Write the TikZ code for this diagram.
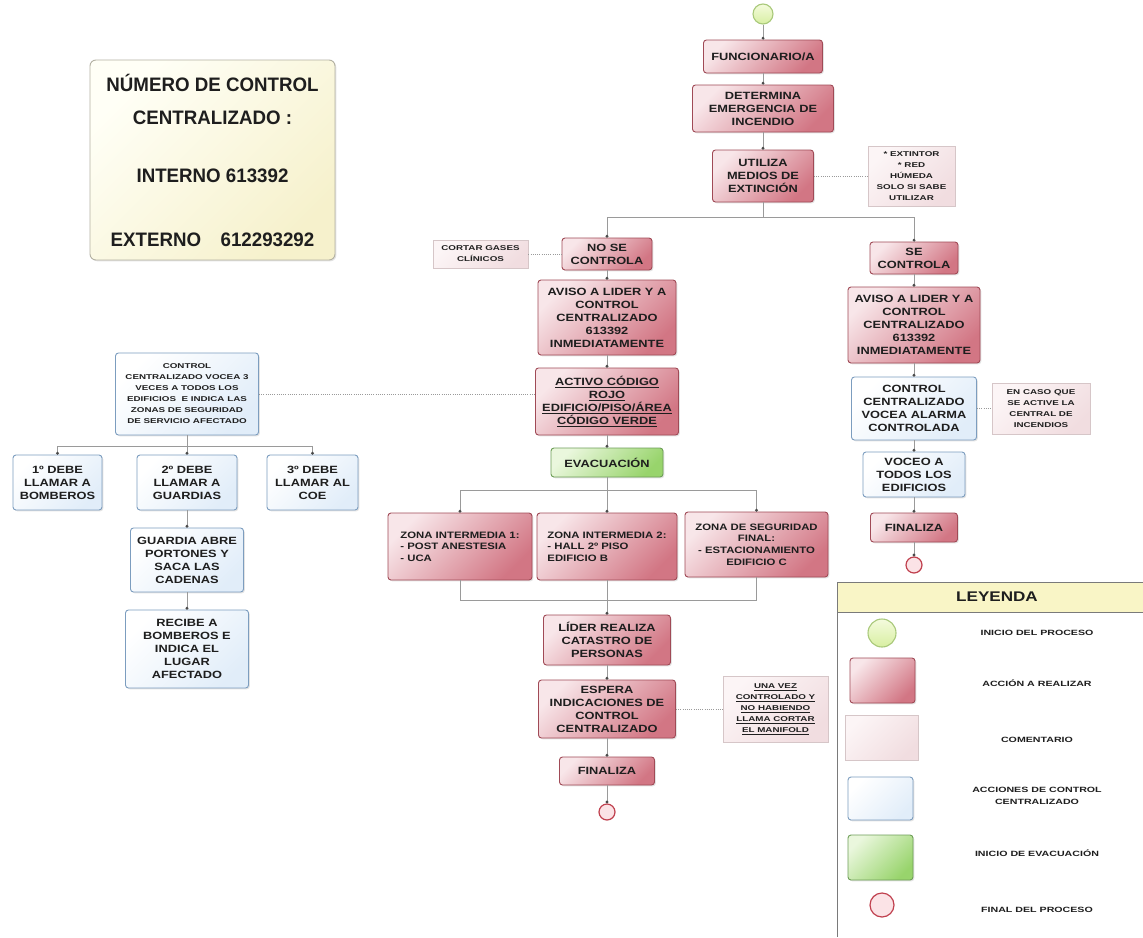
\documentclass[tikz,border=0pt]{standalone}
\usepackage{fontspec}
\setmainfont{Liberation Sans}
\newfontfamily\bxf[FakeStretch=1.22]{Liberation Sans}
\newfontfamily\smf[FakeStretch=1.4]{Liberation Sans}
\newfontfamily\nmf[FakeStretch=0.96]{Liberation Sans}
\usetikzlibrary{arrows.meta,shadows}
\newcommand\bigfnt{\bxf\bfseries\fontsize{10.5}{13}\selectfont}
\newcommand\zonefnt{\bxf\bfseries\fontsize{9.3}{11.7}\selectfont}
\newcommand\smfnt{\smf\bfseries\fontsize{7}{11}\selectfont}
\newcommand\legfnt{\smf\bfseries\fontsize{7.6}{12.5}\selectfont}
\newcommand\leghfnt{\bxf\bfseries\fontsize{14}{16}\selectfont}
\newcommand\numfnt{\nmf\bfseries\fontsize{19.5}{33}\selectfont}
\definecolor{acL}{HTML}{F8E6E9}
\definecolor{acR}{HTML}{D27684}
\definecolor{acB}{HTML}{A04A56}
\definecolor{cmL}{HTML}{FCF5F6}
\definecolor{cmR}{HTML}{F1DDE0}
\definecolor{cmB}{HTML}{D6C6C8}
\definecolor{ctL}{HTML}{FFFFFF}
\definecolor{ctR}{HTML}{E1EDF9}
\definecolor{ctB}{HTML}{7C9DBF}
\definecolor{evL}{HTML}{EAF7DD}
\definecolor{evR}{HTML}{98D46C}
\definecolor{evB}{HTML}{6E9E58}
\definecolor{stL}{HTML}{F4FBDD}
\definecolor{stR}{HTML}{D8EFA2}
\definecolor{stB}{HTML}{A9C97A}
\definecolor{enF}{HTML}{FBE3E6}
\definecolor{enB}{HTML}{C0404E}
\definecolor{lnC}{HTML}{9A9A9A}
\definecolor{dotC}{HTML}{4A4A4A}
\definecolor{nbL}{HTML}{FFFFF6}
\definecolor{nbR}{HTML}{F6F1CC}
\definecolor{nbB}{HTML}{B3B1A2}
\definecolor{lgH}{HTML}{F9F5C6}
\definecolor{lgB}{HTML}{7A7A7A}
\definecolor{txC}{HTML}{1E1E1E}
\tikzset{
  base/.style={rectangle, inner sep=1pt, align=center, text=txC, line width=0.9pt,
    drop shadow={shadow xshift=1.3pt, shadow yshift=-1.3pt, opacity=0.22}},
  acbox/.style={base, rounded corners=3pt, draw=acB, top color=acL, bottom color=acR, shading angle=45, font=\bigfnt},
  zonebox/.style={acbox, font=\zonefnt},
  cmbox/.style={base, draw=cmB, top color=cmL, bottom color=cmR, shading angle=45, font=\smfnt},
  ctbox/.style={base, rounded corners=3pt, draw=ctB, top color=ctL, bottom color=ctR, shading angle=45, font=\bigfnt},
  evbox/.style={base, rounded corners=3pt, draw=evB, top color=evL, bottom color=evR, shading angle=45, font=\bigfnt},
  numbox/.style={base, rounded corners=6pt, draw=nbB, top color=nbL, bottom color=nbR, shading angle=45, font=\numfnt},
  stcirc/.style={circle, inner sep=0pt, draw=stB, line width=1.1pt, top color=stL, bottom color=stR, minimum size=20pt},
  encirc/.style={circle, inner sep=0pt, draw=enB, line width=1.2pt, fill=enF, minimum size=16pt},
  conn/.style={draw=lnC, line width=1pt, -{Circle[length=2.8pt, width=2.8pt, color=dotC]}},
  lnk/.style={draw=lnC, line width=1pt},
  dotl/.style={draw=lnC, line width=0.9pt, dash pattern=on 1pt off 1.2pt},
  legtxt/.style={font=\legfnt, text=txC, align=center},
  wh/.style 2 args={minimum width=#1pt, minimum height=#2pt}
}
\begin{document}
\begin{tikzpicture}[x=1pt,y=-1pt]
\path[fill=white] (0,0) rectangle (1143,937);
\useasboundingbox (0,0) rectangle (1143,937);

% number box
\node[numbox, wh={245}{200}] (num) at (212.5,160)
  {NÚMERO DE CONTROL\\CENTRALIZADO :\\[25pt]INTERNO 613392\\[31pt]EXTERNO\quad 612293292};

% main top column
\node[stcirc] (start) at (763,14) {};
\node[acbox, wh={119}{33}] (func) at (763,56.5) {FUNCIONARIO/A};
\node[acbox, wh={141}{47}] (det) at (763,108.5) {DETERMINA\\EMERGENCIA DE\\INCENDIO};
\node[acbox, wh={101}{52}] (util) at (763,176) {UTILIZA\\MEDIOS DE\\EXTINCIÓN};
\node[cmbox, wh={87}{60}] (ext) at (911.5,176) {* EXTINTOR\\* RED\\HÚMEDA\\SOLO SI SABE\\UTILIZAR};

% left branch (no se controla)
\node[acbox, wh={90}{32}] (nose) at (607,254) {NO SE\\CONTROLA};
\node[cmbox, wh={95}{28}] (cortar) at (480.5,254) {CORTAR GASES\\CLÍNICOS};
\node[acbox, wh={138}{75}] (avl) at (607,317.5) {AVISO A LIDER Y A\\CONTROL\\CENTRALIZADO\\613392\\INMEDIATAMENTE};
\node[acbox, wh={143}{67}] (act) at (607,401.5) {\underline{ACTIVO CÓDIGO}\\\underline{ROJO}\\\underline{EDIFICIO/PISO/ÁREA}\\\underline{CÓDIGO VERDE}};
\node[evbox, wh={112}{29}] (evac) at (607,462.5) {EVACUACIÓN};
\node[zonebox, align=left, wh={144}{67}] (z1) at (460,546.5) {ZONA INTERMEDIA 1:\\- POST ANESTESIA\\- UCA};
\node[zonebox, align=left, wh={140}{67}] (z2) at (607,546.5) {ZONA INTERMEDIA 2:\\- HALL 2º PISO\\EDIFICIO B};
\node[zonebox, wh={143}{65}] (z3) at (756.5,544.5) {ZONA DE SEGURIDAD\\FINAL:\\- ESTACIONAMIENTO\\EDIFICIO C};
\coordinate (mrg) at (607,600);
\node[acbox, wh={127}{50}] (lider) at (607,640) {LÍDER REALIZA\\CATASTRO DE\\PERSONAS};
\node[acbox, wh={137}{58}] (esp) at (607,709) {ESPERA\\INDICACIONES DE\\CONTROL\\CENTRALIZADO};
\node[cmbox, wh={105}{66}] (una) at (775.5,709) {\underline{UNA VEZ}\\\underline{CONTROLADO Y}\\\underline{NO HABIENDO}\\\underline{LLAMA CORTAR}\\\underline{EL MANIFOLD}};
\node[acbox, wh={95}{28}] (finl) at (607,771) {FINALIZA};
\node[encirc] (endl) at (607,812) {};

% right branch (se controla)
\node[acbox, wh={88}{32}] (se) at (914,258) {SE\\CONTROLA};
\node[acbox, wh={132}{76}] (avr) at (914,325) {AVISO A LIDER Y A\\CONTROL\\CENTRALIZADO\\613392\\INMEDIATAMENTE};
\node[ctbox, wh={125}{63}] (ctr) at (914,408.5) {CONTROL\\CENTRALIZADO\\VOCEA ALARMA\\CONTROLADA};
\node[cmbox, wh={98}{51}] (caso) at (1041,408.5) {EN CASO QUE\\SE ACTIVE LA\\CENTRAL DE\\INCENDIOS};
\node[ctbox, wh={102}{45}] (voceo) at (914,474.5) {VOCEO A\\TODOS LOS\\EDIFICIOS};
\node[acbox, wh={87}{29}] (finr) at (914,527.5) {FINALIZA};
\node[encirc] (endr) at (914,565) {};

% control centralizado (left)
\node[ctbox, font=\smfnt, wh={143}{82}] (ctl) at (187,394) {CONTROL\\CENTRALIZADO VOCEA 3\\VECES A TODOS LOS\\EDIFICIOS\ \ E INDICA LAS\\ZONAS DE SEGURIDAD\\DE SERVICIO AFECTADO};
\node[ctbox, wh={89}{55}] (d1) at (57.5,482.5) {1º DEBE\\LLAMAR A\\BOMBEROS};
\node[ctbox, wh={100}{55}] (d2) at (187,482.5) {2º DEBE\\LLAMAR A\\GUARDIAS};
\node[ctbox, wh={91}{55}] (d3) at (312.5,482.5) {3º DEBE\\LLAMAR AL\\COE};
\node[ctbox, wh={113}{64}] (guard) at (187,560) {GUARDIA ABRE\\PORTONES Y\\SACA LAS\\CADENAS};
\node[ctbox, wh={123}{78}] (rec) at (187,649) {RECIBE A\\BOMBEROS E\\INDICA EL\\LUGAR\\AFECTADO};

% connectors
\draw[conn] (start.south) -- (func.north);
\draw[conn] (func.south) -- (det.north);
\draw[conn] (det.south) -- (util.north);
\draw[conn] (util.south) -- ++(0,15) -| (nose.north);
\draw[conn] (util.south) -- ++(0,15) -| (se.north);
\draw[conn] (nose.south) -- (avl.north);
\draw[conn] (avl.south) -- (act.north);
\draw[conn] (act.south) -- (evac.north);
\draw[conn] (evac.south) -- ++(0,13) -| (z1.north);
\draw[conn] (evac.south) -- (z2.north);
\draw[conn] (evac.south) -- ++(0,13) -| (z3.north);
\draw[lnk] (z1.south) |- (mrg);
\draw[lnk] (z3.south) |- (mrg);
\draw[conn] (z2.south) -- (lider.north);
\draw[conn] (lider.south) -- (esp.north);
\draw[conn] (esp.south) -- (finl.north);
\draw[conn] (finl.south) -- (endl.north);
\draw[conn] (se.south) -- (avr.north);
\draw[conn] (avr.south) -- (ctr.north);
\draw[conn] (ctr.south) -- (voceo.north);
\draw[conn] (voceo.south) -- (finr.north);
\draw[conn] (finr.south) -- (endr.north);
\draw[conn] (ctl.south) -- ++(0,11) -| (d1.north);
\draw[conn] (ctl.south) -- (d2.north);
\draw[conn] (ctl.south) -- ++(0,11) -| (d3.north);
\draw[conn] (d2.south) -- (guard.north);
\draw[conn] (guard.south) -- (rec.north);

% dotted associations
\draw[dotl] (util.east) -- (ext.west);
\draw[dotl] (cortar.east) -- (nose.west);
\draw[dotl] (ctl.east) -- (ctl.east -| act.west);
\draw[dotl] (ctr.east) -- (caso.west);
\draw[dotl] (esp.east) -- (una.west);

% legend
\fill[lgH] (837,582) rectangle (1143,612);
\draw[lgB, line width=1pt] (1143,582) -- (837,582) -- (837,937);
\draw[lgB, line width=1pt] (837,612) -- (1143,612);
\node[font=\leghfnt, text=txC] (leyenda) at (997,597) {LEYENDA};
\node[stcirc, minimum size=28pt] (lgst) at (882,633) {};
\node[acbox, wh={65}{45}] (lgac) at (882.5,680.5) {};
\node[cmbox, wh={73}{45}] (lgcm) at (881.5,737.5) {};
\node[ctbox, wh={65}{43}] (lgct) at (880.5,798.5) {};
\node[evbox, wh={65}{45}] (lgev) at (880.5,857.5) {};
\node[encirc, minimum size=24pt] (lgen) at (882,905) {};
\node[legtxt] (lt1) at (1037,633) {INICIO DEL PROCESO};
\node[legtxt] (lt2) at (1037,683) {ACCIÓN A REALIZAR};
\node[legtxt] (lt3) at (1037,740) {COMENTARIO};
\node[legtxt] (lt4) at (1037,796) {ACCIONES DE CONTROL\\CENTRALIZADO};
\node[legtxt] (lt5) at (1037,853) {INICIO DE EVACUACIÓN};
\node[legtxt] (lt6) at (1037,910) {FINAL DEL PROCESO};
\end{tikzpicture}
\end{document}
